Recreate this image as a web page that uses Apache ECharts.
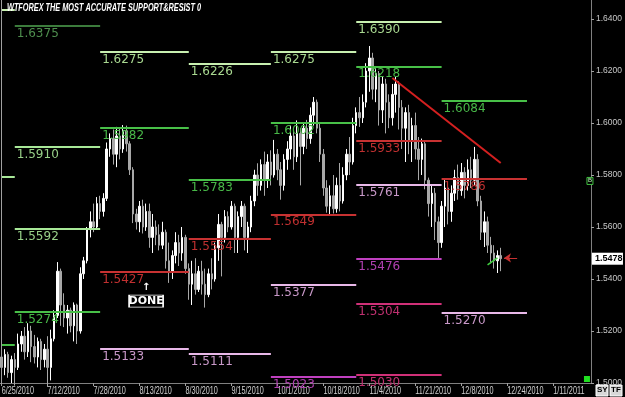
<!DOCTYPE html>
<html>
<head>
<meta charset="utf-8">
<script src="https://cdn.jsdelivr.net/npm/echarts@6.0.0/dist/echarts.min.js"></script>
<style>
html, body { margin: 0; padding: 0; background: #000; }
#chart { width: 625px; height: 397px; }
</style>
</head>
<body>
<div id="chart"></div>
<script>
// daily bars: open, close, low, high
const candles = [
  [1.5100,1.5060,1.5040,1.5125],[1.5060,1.5110,1.5030,1.5130],[1.5110,1.5040,1.5020,1.5120],[1.5040,1.5090,1.5000,1.5105],
  [1.5090,1.5060,1.4990,1.5115],[1.5060,1.5150,1.5050,1.5190],[1.5150,1.5180,1.5120,1.5200],[1.5180,1.5120,1.5090,1.5215],
  [1.5120,1.5200,1.5100,1.5230],[1.5200,1.5140,1.5080,1.5220],[1.5140,1.5100,1.5075,1.5185],[1.5100,1.5160,1.5060,1.5175],
  [1.5160,1.5090,1.5050,1.5170],[1.5090,1.5130,1.5060,1.5150],[1.5130,1.5060,1.4985,1.5180],[1.5060,1.5170,1.5010,1.5205],
  [1.5170,1.5260,1.5160,1.5280],[1.5260,1.5430,1.5250,1.5465],[1.5430,1.5300,1.5220,1.5440],[1.5300,1.5250,1.5215,1.5345],
  [1.5250,1.5280,1.5190,1.5300],[1.5280,1.5220,1.5195,1.5290],[1.5220,1.5300,1.5160,1.5310],[1.5300,1.5200,1.5150,1.5305],
  [1.5200,1.5420,1.5190,1.5445],[1.5420,1.5470,1.5400,1.5485],[1.5470,1.5590,1.5460,1.5600],[1.5590,1.5620,1.5560,1.5660],
  [1.5620,1.5600,1.5580,1.5690],[1.5600,1.5690,1.5590,1.5715],[1.5690,1.5660,1.5630,1.5720],[1.5660,1.5710,1.5640,1.5730],
  [1.5710,1.5900,1.5700,1.5925],[1.5900,1.5940,1.5870,1.5960],[1.5940,1.5880,1.5840,1.5975],[1.5880,1.5950,1.5830,1.5985],
  [1.5950,1.5900,1.5860,1.5980],[1.5900,1.5970,1.5885,1.5992],[1.5970,1.5920,1.5890,1.5990],[1.5920,1.5820,1.5800,1.5930],
  [1.5820,1.5650,1.5615,1.5830],[1.5650,1.5620,1.5590,1.5670],[1.5620,1.5680,1.5580,1.5700],[1.5680,1.5600,1.5575,1.5705],
  [1.5600,1.5660,1.5585,1.5690],[1.5660,1.5560,1.5520,1.5690],[1.5560,1.5600,1.5500,1.5650],[1.5600,1.5570,1.5530,1.5625],
  [1.5570,1.5530,1.5510,1.5610],[1.5530,1.5580,1.5515,1.5620],[1.5580,1.5470,1.5440,1.5590],[1.5470,1.5430,1.5385,1.5540],
  [1.5430,1.5490,1.5400,1.5510],[1.5490,1.5540,1.5460,1.5580],[1.5540,1.5500,1.5450,1.5570],[1.5500,1.5560,1.5470,1.5600],
  [1.5560,1.5440,1.5420,1.5570],[1.5440,1.5380,1.5320,1.5460],[1.5380,1.5420,1.5300,1.5470],[1.5420,1.5360,1.5340,1.5480],
  [1.5360,1.5430,1.5350,1.5450],[1.5430,1.5380,1.5340,1.5470],[1.5380,1.5340,1.5290,1.5440],[1.5340,1.5420,1.5330,1.5440],
  [1.5420,1.5400,1.5360,1.5480],[1.5400,1.5520,1.5390,1.5540],[1.5520,1.5610,1.5470,1.5650],[1.5610,1.5560,1.5410,1.5620],
  [1.5560,1.5640,1.5540,1.5665],[1.5640,1.5600,1.5580,1.5660],[1.5600,1.5680,1.5590,1.5700],[1.5680,1.5560,1.5500,1.5690],
  [1.5560,1.5640,1.5500,1.5660],[1.5640,1.5680,1.5600,1.5700],[1.5680,1.5560,1.5510,1.5690],[1.5560,1.5600,1.5500,1.5620],
  [1.5600,1.5700,1.5580,1.5720],[1.5700,1.5800,1.5680,1.5820],[1.5800,1.5760,1.5720,1.5845],[1.5760,1.5840,1.5740,1.5860],
  [1.5840,1.5780,1.5720,1.5890],[1.5780,1.5850,1.5750,1.5880],[1.5850,1.5800,1.5760,1.5895],[1.5800,1.5880,1.5790,1.5935],
  [1.5880,1.5820,1.5780,1.5900],[1.5820,1.5760,1.5705,1.5850],[1.5760,1.5860,1.5740,1.5880],[1.5860,1.5900,1.5820,1.5930],
  [1.5900,1.5950,1.5860,1.5990],[1.5950,1.5870,1.5820,1.5970],[1.5870,1.5960,1.5850,1.6010],[1.5960,1.5910,1.5760,1.5980],
  [1.5910,1.5980,1.5880,1.6000],[1.5980,1.5940,1.5900,1.6012],[1.5940,1.6030,1.5920,1.6060],[1.6030,1.6080,1.5990,1.6100],
  [1.6080,1.5980,1.5960,1.6090],[1.5980,1.5880,1.5850,1.6000],[1.5880,1.5750,1.5720,1.5900],[1.5750,1.5680,1.5655,1.5780],
  [1.5680,1.5720,1.5650,1.5760],[1.5720,1.5670,1.5652,1.5800],[1.5670,1.5760,1.5655,1.5790],[1.5760,1.5700,1.5660,1.5846],
  [1.5700,1.5800,1.5690,1.5830],[1.5800,1.5880,1.5780,1.5900],[1.5880,1.5850,1.5800,1.5946],[1.5850,1.5990,1.5840,1.6020],
  [1.5990,1.6040,1.5960,1.6060],[1.6040,1.6020,1.5985,1.6100],[1.6020,1.6080,1.6000,1.6110],[1.6080,1.6200,1.6060,1.6230],
  [1.6200,1.6250,1.6120,1.6296],[1.6250,1.6130,1.6090,1.6270],[1.6130,1.6190,1.6080,1.6215],[1.6190,1.6050,1.5990,1.6200],
  [1.6050,1.6150,1.6000,1.6180],[1.6150,1.6080,1.5960,1.6170],[1.6080,1.6020,1.5980,1.6110],[1.6020,1.6110,1.5990,1.6150],
  [1.6110,1.6150,1.6040,1.6177],[1.6150,1.6060,1.5975,1.6160],[1.6060,1.5980,1.5900,1.6088],[1.5980,1.6040,1.5850,1.6060],
  [1.6040,1.5930,1.5880,1.6070],[1.5930,1.5990,1.5850,1.6020],[1.5990,1.5900,1.5860,1.6040],[1.5900,1.5860,1.5780,1.5946],
  [1.5860,1.5920,1.5800,1.5940],[1.5920,1.5780,1.5745,1.5930],[1.5780,1.5690,1.5640,1.5790],[1.5690,1.5730,1.5600,1.5760],
  [1.5730,1.5620,1.5550,1.5750],[1.5620,1.5540,1.5478,1.5640],[1.5540,1.5680,1.5520,1.5700],[1.5680,1.5750,1.5600,1.5781],
  [1.5750,1.5660,1.5610,1.5770],[1.5660,1.5730,1.5620,1.5760],[1.5730,1.5790,1.5700,1.5820],[1.5790,1.5740,1.5705,1.5840],
  [1.5740,1.5810,1.5720,1.5846],[1.5810,1.5760,1.5710,1.5830],[1.5760,1.5820,1.5740,1.5860],[1.5820,1.5780,1.5750,1.5870],
  [1.5780,1.5860,1.5760,1.5908],[1.5860,1.5700,1.5680,1.5880],[1.5700,1.5580,1.5550,1.5720],[1.5580,1.5620,1.5523,1.5660],
  [1.5620,1.5530,1.5500,1.5640],[1.5530,1.5500,1.5460,1.5562],[1.5500,1.5470,1.5440,1.5530],[1.5470,1.5490,1.5423,1.5510],
  [1.5490,1.5478,1.5430,1.5520]
];
const barCount = 180;
const dateLabels = ['6/25/2010','7/12/2010','7/28/2010','8/13/2010','8/30/2010','9/15/2010','10/1/2010',
  '10/18/2010','11/4/2010','11/21/2010','12/8/2010','12/24/2010','1/11/2011'];
const labelEvery = 14;
const lastPrice = 1.5478;

// period edges on the bar scale
const periodEdges = [-0.5, 4.4, 30.3, 56.8, 82.4, 108.3, 134.0, 160.2, 179.5];
// [period, price, kind]
const levels = [
  [0,1.6437,'pale'],[0,1.5792,'lime'],[0,1.5146,'green'],
  [1,1.6375,'dark'],[1,1.5910,'lime'],[1,1.5592,'lime'],[1,1.5274,'green'],
  [2,1.6275,'pale'],[2,1.5982,'green'],[2,1.5427,'red'],[2,1.5133,'lilac'],
  [3,1.6226,'pale'],[3,1.5783,'green'],[3,1.5554,'red'],[3,1.5111,'lilac'],
  [4,1.6275,'pale'],[4,1.6002,'green'],[4,1.5649,'red'],[4,1.5377,'lilac'],[4,1.5023,'magenta'],
  [5,1.6390,'pale'],[5,1.6218,'green'],[5,1.5933,'red'],[5,1.5761,'lilac'],[5,1.5476,'magenta'],[5,1.5304,'crimson'],[5,1.5030,'crimson'],
  [6,1.6084,'green'],[6,1.5786,'red'],[6,1.5270,'lilac'],
  [7,1.6395,'pale'],[7,1.6087,'green'],[7,1.5779,'green'],[7,1.5602,'red'],[7,1.5293,'lilac'],[7,1.5117,'magenta']
];
// trend line [bar, price]
const trendStart = [119, 1.6173];
const trendEnd = [152, 1.5846];

const kindStyle = {
  dark:    { line: '#3c7c3c', text: '#4e8e4e' },
  pale:    { line: '#c8f0b0', text: '#a8d890' },
  lime:    { line: '#a8e898', text: '#98d088' },
  green:   { line: '#48c048', text: '#48b848' },
  red:     { line: '#c83232', text: '#c03030' },
  lilac:   { line: '#e8b8e8', text: '#c898c8' },
  magenta: { line: '#c040c0', text: '#b040b0' },
  crimson: { line: '#d03078', text: '#c03070' }
};

const cats = [];
for (let i = 0; i < barCount; i++) cats.push(String(i));

const levelLines = levels.map(([p, price, kind]) => {
  const st = kindStyle[kind];
  return [
    {
      coord: [periodEdges[p], price],
      lineStyle: { color: st.line, width: 2, type: 'solid' },
      label: {
        show: p > 0,
        position: 'insideStartBottom',
        formatter: price.toFixed(4),
        color: st.text,
        fontSize: 12,
        fontFamily: 'DejaVu Sans',
        distance: [2, 2]
      }
    },
    { coord: [periodEdges[p + 1], price] }
  ];
});

const chart = echarts.init(document.getElementById('chart'));
chart.setOption({
  backgroundColor: '#000',
  animation: false,
  grid: { left: 0, right: 33, top: 0, bottom: 14 },
  xAxis: {
    type: 'category',
    data: cats,
    boundaryGap: true,
    axisLine: { show: true, lineStyle: { color: '#808080' } },
    axisTick: { show: true, alignWithLabel: true, length: 3, interval: (i) => i % labelEvery === 0, lineStyle: { color: '#a0a0a0' } },
    axisLabel: { show: false },
    splitLine: { show: false }
  },
  yAxis: {
    type: 'value',
    position: 'right',
    min: 1.5, max: 1.6473, interval: 0.02,
    axisLine: { show: true, lineStyle: { color: '#808080' } },
    axisTick: { show: true, length: 3, lineStyle: { color: '#a0a0a0' } },
    axisLabel: { color: '#c8c8c8', fontSize: 8.5, margin: 5, fontFamily: 'Liberation Sans', showMaxLabel: false, formatter: (v) => v.toFixed(4) },
    splitLine: { show: false }
  },
  series: [
    {
      type: 'line',
      data: [],
      z: 1,
      clip: false,
      markLine: {
        silent: true,
        symbol: ['none', 'none'],
        animation: false,
        data: levelLines.concat([
          [{ coord: [0.4, 1.6473], lineStyle: { color: '#a0a0a0', width: 1, type: 'solid' }, label: { show: false } },
           { coord: [0.4, 1.5] }]
        ])
      }
    },
    {
      type: 'candlestick',
      data: candles,
      z: 3,
      barWidth: 2,
      itemStyle: { color: '#ffffff', color0: '#a8a8a8', borderColor: '#ffffff', borderColor0: '#a8a8a8', borderWidth: 1 },
      markLine: {
        silent: true,
        symbol: ['none', 'none'],
        animation: false,
        label: { show: false },
        data: [
          [{ coord: trendStart, lineStyle: { color: '#d42020', width: 2, type: 'solid' } }, { coord: trendEnd }],
          [{ coord: [148, 1.5454], lineStyle: { color: '#40d040', width: 1.5, type: 'solid' } }, { coord: [151, 1.5481] }],
          [{ coord: [157, 1.5481], symbol: 'none', lineStyle: { color: '#c83030', width: 1, type: 'solid' } },
           { coord: [153, 1.5481], symbol: 'arrow', symbolSize: 7 }]
        ]
      },
      markPoint: {
        silent: true,
        animation: false,
        data: [
          {
            coord: [43.7, 1.5315], symbol: 'rect', symbolSize: [34, 12],
            itemStyle: { color: '#000', borderColor: '#fff', borderWidth: 1 },
            label: { show: true, position: 'inside', formatter: 'DONE', color: '#fff', fontSize: 11, fontWeight: 'bold', fontFamily: 'DejaVu Sans' }
          },
          {
            coord: [43.7, 1.5368], symbol: 'rect', symbolSize: 1, itemStyle: { color: 'rgba(0,0,0,0)' },
            label: { show: true, position: 'inside', formatter: '↑', color: '#fff', fontSize: 10, fontWeight: 'bold', fontFamily: 'DejaVu Sans' }
          }
        ]
      }
    }
  ]
});

// condensed date labels, title, price tag and small terminal widgets, placed through the axes
const tagY = chart.convertToPixel({ yAxisIndex: 0 }, lastPrice);
const bY = chart.convertToPixel({ yAxisIndex: 0 }, 1.5779);
const axisX = chart.convertToPixel({ xAxisIndex: 0 }, String(barCount - 1)) + 1.6;
const baseY = chart.convertToPixel({ yAxisIndex: 0 }, 1.5);
const graphics = dateLabels.map((txt, k) => ({
  type: 'text',
  x: chart.convertToPixel({ xAxisIndex: 0 }, String(k * labelEvery)),
  y: baseY + 2,
  scaleX: 0.66,
  style: { text: txt, fill: '#d0d0d0', font: "11px 'Liberation Sans', sans-serif" },
  z: 5
}));
graphics.push(
  { type: 'text', x: 7, y: 2, scaleX: 0.665, style: { text: 'WTFOREX THE MOST ACCURATE SUPPORT&RESIST 0', fill: '#fff', font: "italic bold 11px 'Liberation Sans', sans-serif" }, z: 10 },
  { type: 'rect', shape: { x: axisX + 1, y: tagY - 6, width: 31, height: 12 }, style: { fill: '#fff' }, z: 10 },
  { type: 'text', x: axisX + 4, y: tagY - 5, style: { text: lastPrice.toFixed(4), fill: '#000', font: "bold 9px 'Liberation Sans', sans-serif" }, z: 11 },
  { type: 'rect', shape: { x: axisX - 4, y: bY - 3, width: 6, height: 7 }, style: { fill: '#000', stroke: '#40c040', lineWidth: 1 }, z: 10 },
  { type: 'text', x: axisX - 3, y: bY - 3, style: { text: 'B', fill: '#c0ffc0', font: "6px sans-serif" }, z: 11 },
  { type: 'rect', shape: { x: axisX - 7, y: baseY - 7, width: 6, height: 6 }, style: { fill: '#20e020' }, z: 10 },
  { type: 'rect', shape: { x: 596, y: 385, width: 12, height: 11 }, style: { fill: '#d8d8d8', stroke: '#fff' }, z: 10 },
  { type: 'text', x: 597, y: 386, style: { text: 'SY', fill: '#000', font: "bold 8px 'Liberation Sans', sans-serif" }, z: 11 },
  { type: 'rect', shape: { x: 610, y: 385, width: 12, height: 11 }, style: { fill: '#d8d8d8', stroke: '#fff' }, z: 10 },
  { type: 'text', x: 611, y: 386, style: { text: 'TF', fill: '#000', font: "bold 8px 'Liberation Sans', sans-serif" }, z: 11 }
);
chart.setOption({ graphic: graphics });
</script>
</body>
</html>
